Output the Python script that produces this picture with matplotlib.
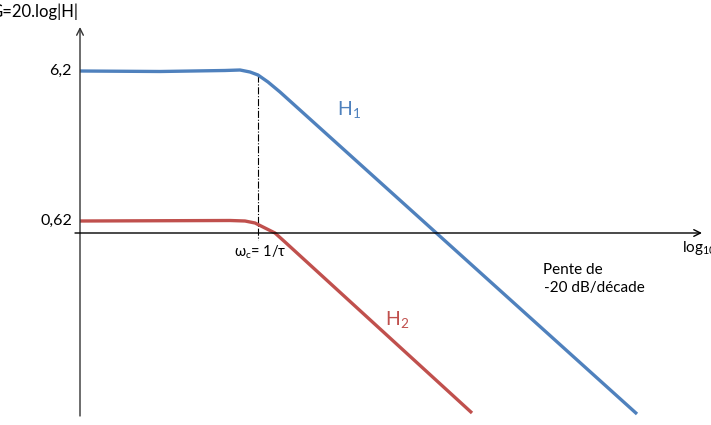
import matplotlib
matplotlib.use("Agg")
import matplotlib.pyplot as plt

plt.rcParams['font.family'] = ['Lato', 'DejaVu Sans']
plt.rcParams['mathtext.fontset'] = 'custom'
plt.rcParams['mathtext.rm'] = 'Lato'
plt.rcParams['mathtext.it'] = 'Lato:italic'

# x: log10(omega) decades measured from the vertical axis; y: gain (schematic units)
h1_x = [0.00, 0.80, 1.45, 1.60, 1.70, 1.78, 1.88, 2.00, 5.57]
h1_y = [16.2, 16.15, 16.25, 16.3, 16.1, 15.8, 15.1, 14.1, -18.1]
h2_x = [0.00, 1.50, 1.65, 1.75, 1.85, 1.95, 2.05, 3.92]
h2_y = [1.2, 1.25, 1.2, 1.0, 0.5, 0.0, -0.9, -18.0]
wc_x = 1.78
ytick_pos = [16.2, 1.2]
ytick_labels = ["6,2", "0,62"]

BLUE = "#4F81BD"
RED = "#C0504D"

fig = plt.figure(figsize=(7.11, 4.25), dpi=100)
ax = fig.add_axes([0, 0, 1, 1])
ax.set_xlim(-0.80, 6.31)
ax.set_ylim(-19.2, 23.3)
ax.axis('off')

# axes with arrows
ax.annotate("", xy=(0, 20.6), xytext=(0, -18.3),
            arrowprops=dict(arrowstyle="->", lw=1.0, color="#333333",
                            mutation_scale=12, shrinkA=0, shrinkB=0))
ax.annotate("", xy=(6.22, 0), xytext=(-0.05, 0),
            arrowprops=dict(arrowstyle="->", lw=1.0, color="black",
                            mutation_scale=12, shrinkA=0, shrinkB=0))

# cutoff marker
ax.plot([wc_x, wc_x], [15.8, -0.7], color="black", lw=0.8, ls="-.")

# curves
ax.plot(h1_x, h1_y, color=BLUE, lw=2.4, solid_capstyle='butt')
ax.plot(h2_x, h2_y, color=RED, lw=2.4, solid_capstyle='butt')

# labels
for p, lab in zip(ytick_pos, ytick_labels):
    ax.text(-0.08, p, lab, ha="right", va="center", fontsize=11.5, color="black")

ax.text(-0.02, 22.1, "G=20.log|H|", ha="right", va="center", fontsize=12)
ax.text(6.02, -1.5, r"log$_\mathregular{10}$", ha="left", va="center", fontsize=11)
ax.text(1.54, -1.9, r"ω$_\mathregular{c}$= 1/τ", ha="left", va="center", fontsize=10.5)
ax.text(2.57, 12.4, r"H$_\mathregular{1}$", ha="left", va="center", fontsize=14, color=BLUE)
ax.text(3.05, -8.7, r"H$_\mathregular{2}$", ha="left", va="center", fontsize=14, color=RED)
ax.text(4.63, -3.7, "Pente de", ha="left", va="center", fontsize=11)
ax.text(4.64, -5.5, "-20 dB/décade", ha="left", va="center", fontsize=11)

fig.savefig("out.png", dpi=100)
